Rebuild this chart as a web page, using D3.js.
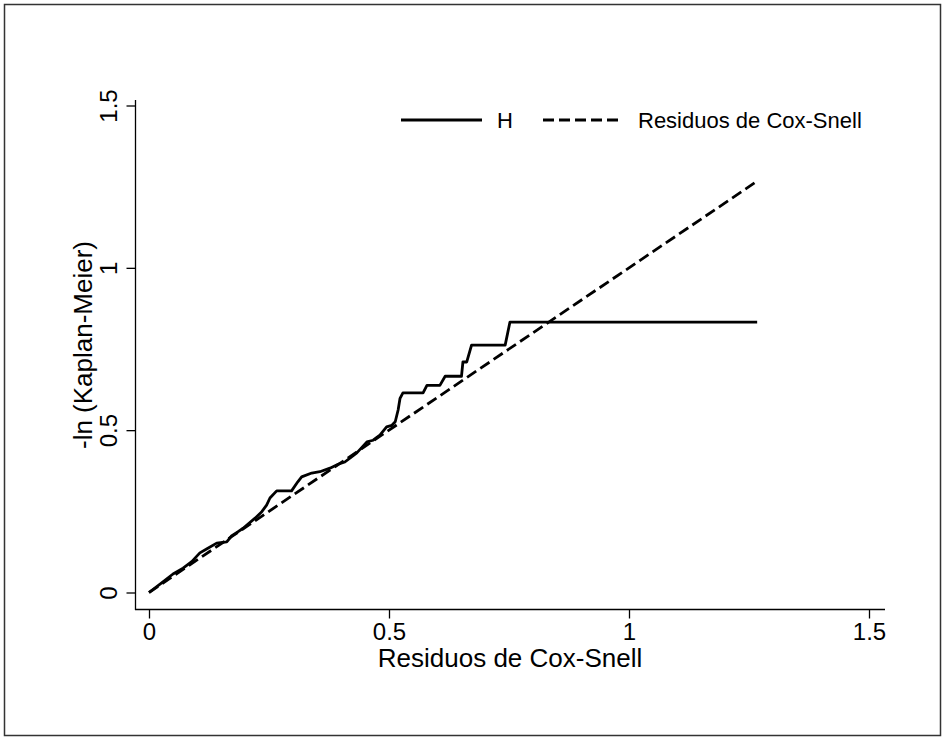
<!DOCTYPE html>
<html>
<head>
<meta charset="utf-8">
<script src="https://cdn.jsdelivr.net/npm/d3@7"></script>
<style>
  html, body { margin: 0; padding: 0; background: #fff; }
  svg { display: block; font-family: "Liberation Sans", Arial, sans-serif; }
</style>
</head>
<body>
<svg id="chart" width="945" height="740"></svg>
<script>
// ── Data ──────────────────────────────────────────────────
// Nelson-Aalen style curve H: Cox-Snell residual vs -ln(KM)
const H_X = [0, 0.023, 0.050, 0.071, 0.089, 0.106, 0.120, 0.141, 0.162, 0.172,
  0.185, 0.196, 0.221, 0.235, 0.245, 0.252, 0.266, 0.297, 0.310, 0.318,
  0.339, 0.356, 0.377, 0.394, 0.408, 0.422, 0.433, 0.454, 0.467, 0.481,
  0.495, 0.506, 0.513, 0.519, 0.523, 0.529, 0.571, 0.579, 0.606, 0.617,
  0.651, 0.654, 0.662, 0.672, 0.742, 0.752, 1.267];
const H_Y = [0, 0.026, 0.057, 0.075, 0.095, 0.122, 0.134, 0.152, 0.156, 0.174,
  0.187, 0.198, 0.229, 0.249, 0.269, 0.291, 0.313, 0.313, 0.341, 0.356,
  0.368, 0.372, 0.383, 0.395, 0.402, 0.418, 0.430, 0.464, 0.469, 0.485,
  0.510, 0.515, 0.526, 0.562, 0.598, 0.615, 0.615, 0.638, 0.638, 0.666,
  0.666, 0.710, 0.710, 0.762, 0.762, 0.833, 0.833];
// reference line y = x over the residual range
const REF_X = [0, 1.265];

const X_TICKS = [0, 0.5, 1, 1.5];
const Y_TICKS = [0, 0.5, 1, 1.5];
const X_TITLE = 'Residuos de Cox-Snell';
const Y_TITLE = '-ln (Kaplan-Meier)';
const LEGEND = ['H', 'Residuos de Cox-Snell'];

// ── Setup ─────────────────────────────────────────────────
const svg = d3.select('#chart');

const x = d3.scaleLinear().domain([0, 1.5]).range([149, 869]);
const y = d3.scaleLinear().domain([0, 1.5]).range([592.5, 105.5]);

// outer frame
svg.append('rect')
  .attr('x', 4.5).attr('y', 4.5)
  .attr('width', 936).attr('height', 731)
  .attr('fill', '#fff')
  .attr('stroke', '#333').attr('stroke-width', 1.5);

// ── Axes ──────────────────────────────────────────────────
const xAxis = svg.append('g')
  .attr('transform', 'translate(0,609.5)')
  .call(d3.axisBottom(x).tickValues(X_TICKS).tickSize(9).tickPadding(4)
    .tickFormat(d3.format('')));
xAxis.select('.domain').remove();
xAxis.selectAll('line').attr('stroke', '#000').attr('stroke-width', 1.3);
xAxis.selectAll('text').attr('font-size', 24).attr('fill', '#000')
  .attr('font-family', '"Liberation Sans", Arial, sans-serif');
svg.append('line')
  .attr('x1', 135).attr('x2', 885).attr('y1', 609.5).attr('y2', 609.5)
  .attr('stroke', '#000').attr('stroke-width', 1.3);

const yAxis = svg.append('g')
  .attr('transform', 'translate(135.5,0)')
  .call(d3.axisLeft(y).tickValues(Y_TICKS).tickSize(9).tickFormat(d3.format('')));
yAxis.select('.domain').remove();
yAxis.selectAll('line').attr('stroke', '#000').attr('stroke-width', 1.3);
yAxis.selectAll('text').remove();
yAxis.selectAll('.tick').append('text')
  .attr('transform', 'translate(-19,0) rotate(-90)')
  .attr('text-anchor', 'middle')
  .attr('font-size', 24).attr('fill', '#000')
  .attr('font-family', '"Liberation Sans", Arial, sans-serif')
  .text(d => d3.format('')(d));
svg.append('line')
  .attr('x1', 135.5).attr('x2', 135.5).attr('y1', 100).attr('y2', 610)
  .attr('stroke', '#000').attr('stroke-width', 1.3);

// axis titles
svg.append('text')
  .attr('x', 510).attr('y', 667)
  .attr('text-anchor', 'middle').attr('font-size', 26)
  .text(X_TITLE);
svg.append('text')
  .attr('transform', 'translate(92,345) rotate(-90)')
  .attr('text-anchor', 'middle').attr('font-size', 26)
  .text(Y_TITLE);

// ── Lines ─────────────────────────────────────────────────
const hPts = H_X.map((v, i) => [v, H_Y[i]]);
const line = d3.line().x(d => x(d[0])).y(d => y(d[1]));

svg.append('path')
  .datum(hPts)
  .attr('d', line)
  .attr('fill', 'none').attr('stroke', '#000')
  .attr('stroke-width', 2.8).attr('stroke-linejoin', 'round');

svg.append('path')
  .datum(REF_X.map(v => [v, v]))
  .attr('d', line)
  .attr('fill', 'none').attr('stroke', '#000')
  .attr('stroke-width', 2.8).attr('stroke-dasharray', '11,5');

// ── Legend ────────────────────────────────────────────────
const legend = svg.append('g');
legend.append('line')
  .attr('x1', 401).attr('x2', 482).attr('y1', 120).attr('y2', 120)
  .attr('stroke', '#000').attr('stroke-width', 2.8);
legend.append('text')
  .attr('x', 497).attr('y', 128).attr('font-size', 22)
  .text(LEGEND[0]);
legend.append('line')
  .attr('x1', 543).attr('x2', 618).attr('y1', 120).attr('y2', 120)
  .attr('stroke', '#000').attr('stroke-width', 2.8)
  .attr('stroke-dasharray', '11,5');
legend.append('text')
  .attr('x', 638).attr('y', 128).attr('font-size', 22)
  .text(LEGEND[1]);
</script>
</body>
</html>
